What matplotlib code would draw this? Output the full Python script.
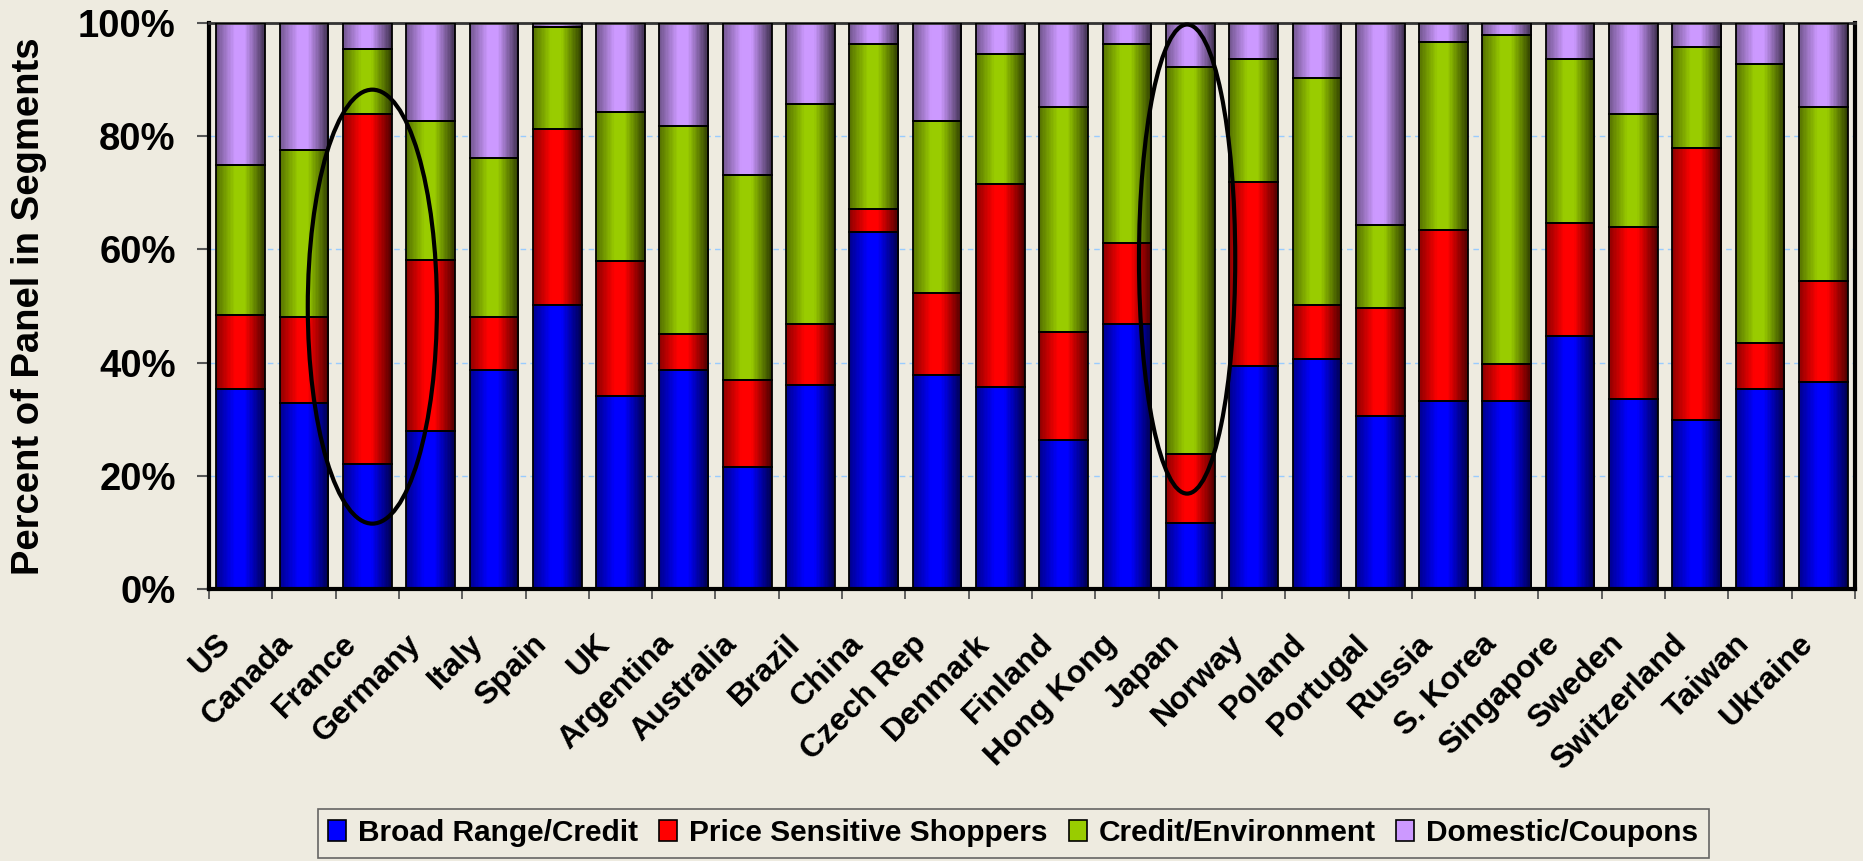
import numpy as np
import matplotlib
matplotlib.use("Agg")
import matplotlib.pyplot as plt
import matplotlib.patches as mpatches
import matplotlib.transforms as mtransforms
from matplotlib.colors import to_rgb, to_hex

plt.rcParams['font.family'] = ['Liberation Sans', 'DejaVu Sans']
plt.rcParams['font.weight'] = 'bold'

# segment shares per country (percent of panel)
countries = ['US', 'Canada', 'France', 'Germany', 'Italy', 'Spain', 'UK',
             'Argentina', 'Australia', 'Brazil', 'China', 'Czech Rep', 'Denmark',
             'Finland', 'Hong Kong', 'Japan', 'Norway', 'Poland', 'Portugal',
             'Russia', 'S. Korea', 'Singapore', 'Sweden', 'Switzerland',
             'Taiwan', 'Ukraine']
broad_range = [35.3, 32.9, 22.1, 28.0, 38.7, 50.2, 34.1, 38.7, 21.6, 36.1, 63.0,
               37.8, 35.7, 26.4, 46.8, 11.8, 39.5, 40.7, 30.6, 33.2, 33.2, 44.7,
               33.6, 29.9, 35.3, 36.6]
price_sensitive = [13.1, 15.1, 61.8, 30.2, 9.3, 31.0, 23.8, 6.4, 15.4, 10.7, 4.2,
                   14.5, 35.8, 19.1, 14.4, 12.1, 32.4, 9.5, 19.1, 30.2, 6.5, 20.0,
                   30.4, 48.0, 8.1, 17.9]
credit_env = [26.5, 29.5, 11.5, 24.4, 28.2, 18.0, 26.4, 36.6, 36.2, 38.8, 29.1,
              30.3, 23.0, 39.6, 35.0, 68.3, 21.7, 40.0, 14.6, 33.2, 58.1, 28.9,
              19.9, 17.8, 49.4, 30.6]
domestic = [25.1, 22.5, 4.6, 17.4, 23.8, 0.8, 15.7, 18.3, 26.8, 14.4, 3.7, 17.4,
            5.5, 14.9, 3.8, 7.8, 6.4, 9.8, 35.7, 3.4, 2.2, 6.4, 16.1, 4.3, 7.2,
            14.9]

segments = ['Broad Range/Credit', 'Price Sensitive Shoppers',
            'Credit/Environment', 'Domestic/Coupons']
colors = ['#0000FF', '#FF0000', '#99CC00', '#CC99FF']
series = [broad_range, price_sensitive, credit_env, domestic]

bg = '#EEEBE0'
fig = plt.figure(figsize=(18.63, 8.61), dpi=100, facecolor=bg)
ax = fig.add_axes([0.1122, 0.3155, 0.8835, 0.658])
ax.set_facecolor(bg)

x = np.arange(len(countries))
width = 0.77

# each bar is filled with thin vertical strips to get the cylinder-like shading:
# dim left edge, bright just left of centre, dark right edge
n_strips = 36
strip_w = width / n_strips
t = (np.arange(n_strips) + 0.5) / n_strips
shade = np.interp(t, [0, 0.38, 0.58, 1], [0.55, 1.0, 1.0, 0.3])

bottom = np.zeros(len(countries))
for vals, col in zip(series, colors):
    vals = np.array(vals)
    base = np.array(to_rgb(col))
    for k in range(n_strips):
        ax.bar(x - width / 2 + k * strip_w, vals, strip_w * 1.3, bottom=bottom,
               align='edge', color=to_hex(base * shade[k]), linewidth=0,
               zorder=2)
    ax.bar(x, vals, width, bottom=bottom, facecolor='none', edgecolor='black',
           linewidth=1.3, zorder=3)
    bottom += vals

ax.set_xlim(-0.5, len(countries) - 0.5)
ax.set_ylim(0, 100)

# highlighted countries
ax.add_patch(mpatches.Ellipse((countries.index('France') + 0.08, 49.9), 2.04, 76.6,
                              fill=False, edgecolor='black', lw=3, zorder=5))
ax.add_patch(mpatches.Ellipse((countries.index('Japan') - 0.05, 58.3), 1.52, 82.8,
                              fill=False, edgecolor='black', lw=3, zorder=5,
                              clip_on=False))

ax.set_yticks(range(0, 101, 20))
ax.set_yticklabels([f'{v}%' for v in range(0, 101, 20)], fontsize=27.5,
                   fontweight='bold')
ax.tick_params(axis='y', direction='out', length=9, width=1.5, color='#555555',
               pad=15)
ax.yaxis.grid(True, color='#99CCFF', linestyle=(0, (4, 3)), lw=1)
ax.set_axisbelow(True)

ax.set_xticks(x)
ax.set_xticklabels(countries, rotation=45, ha='right', va='center',
                   rotation_mode='anchor', fontsize=23, fontweight='bold')
ax.tick_params(axis='x', length=0, pad=36)
shift = mtransforms.ScaledTranslation(-0.15, 0, fig.dpi_scale_trans)
for lbl in ax.get_xticklabels():
    lbl.set_transform(lbl.get_transform() + shift)
ax.set_xticks(np.arange(-0.5, len(countries)), minor=True)
ax.tick_params(axis='x', which='minor', direction='out', length=7, width=1.3,
               color='#555555')

ax.set_ylabel('Percent of Panel in Segments', fontsize=27.5, fontweight='bold',
              va='center')
ax.yaxis.set_label_coords(-0.1094, 0.5)

for side in ['left', 'bottom', 'right']:
    ax.spines[side].set_linewidth(3)
    ax.spines[side].set_color('black')
ax.spines['top'].set_linewidth(2)
ax.spines['top'].set_color('#333333')

handles = [mpatches.Patch(facecolor=c, edgecolor='black', lw=1.2) for c in colors]
leg = fig.legend(handles, segments, loc='lower center', ncol=4,
                 bbox_to_anchor=(0.544, 0.004), borderaxespad=0, frameon=True,
                 handlelength=0.6, handleheight=0.7, handletextpad=0.4,
                 columnspacing=0.7, borderpad=0.35, fancybox=False,
                 prop={'weight': 'bold', 'size': 21.5})
leg.get_frame().set_facecolor(bg)
leg.get_frame().set_edgecolor('#444444')
leg.get_frame().set_linewidth(1.2)

fig.savefig('out.png', dpi=100, facecolor=bg)
